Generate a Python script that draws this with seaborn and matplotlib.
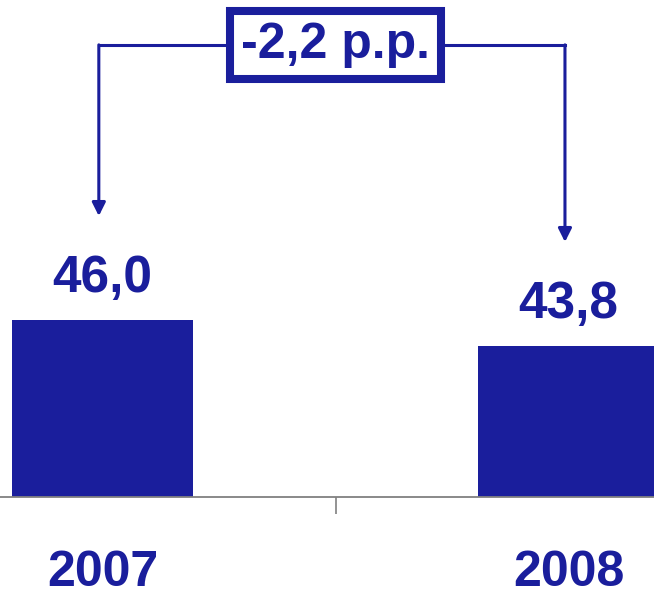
import matplotlib
matplotlib.use("Agg")
import matplotlib.pyplot as plt
import seaborn as sns
import pandas as pd

# ---- data ----
years = ["2007", "2008"]
values = [46.0, 43.8]
change_label = "-2,2 p.p."
value_labels = ["46,0", "43,8"]

BLUE = "#1A1E9C"
GRAY = "#808080"

sns.set_theme(style="white")
plt.rcParams["font.family"] = ["Liberation Sans", "DejaVu Sans"]

df = pd.DataFrame({"year": years, "value": values})

fig = plt.figure(figsize=(6.54, 5.97), dpi=100)
ax = fig.add_axes([0, 1 - 497 / 597, 1, 497 / 597])

sns.barplot(data=df, x="year", y="value", color=BLUE, saturation=1,
            width=0.388, ax=ax, edgecolor="none")

ax.set_xlim(-0.22, 1.183)
ax.set_ylim(31.0, 73.1)

for s in ["top", "left", "right"]:
    ax.spines[s].set_visible(False)
ax.spines["bottom"].set_color(GRAY)
ax.spines["bottom"].set_linewidth(1.3)

ax.set_yticks([])
ax.set_xlabel("")
ax.set_ylabel("")
ax.set_xticks([0, 1])
ax.set_xticklabels(years)
ax.set_xticks([0.5], minor=True)
ax.tick_params(axis="x", which="major", length=0, pad=38,
               labelsize=36, labelcolor=BLUE)
ax.tick_params(axis="x", which="minor", length=12, width=1.2,
               color=GRAY, direction="out", bottom=True)
for lab in ax.get_xticklabels():
    lab.set_fontweight("bold")

# value labels
for i, (v, t) in enumerate(zip(values, value_labels)):
    ax.annotate(t, xy=(i, v), xytext=(0, 20), textcoords="offset points",
                ha="center", va="baseline", fontsize=37,
                fontweight="bold", color=BLUE)

# bracket with arrows
bracket_y = 69.3
arrow_offset = 8.8
mid_x = 0.5
for i, v in enumerate(values):
    ax.plot([mid_x, i - 0.008], [bracket_y, bracket_y], color=BLUE, lw=2.2,
            solid_capstyle="projecting", zorder=3)
    ax.annotate("", xy=(i - 0.008, v + arrow_offset),
                xytext=(i - 0.008, bracket_y),
                arrowprops=dict(arrowstyle="-|>", color=BLUE, lw=2.2,
                                mutation_scale=20, shrinkA=0, shrinkB=0))

ax.text(mid_x, bracket_y, change_label, ha="center", va="center",
        fontsize=36, fontweight="bold", color=BLUE, zorder=5,
        bbox=dict(boxstyle="square,pad=0.22", facecolor="white",
                  edgecolor=BLUE, linewidth=5.8))

fig.savefig("out.png", dpi=100)
